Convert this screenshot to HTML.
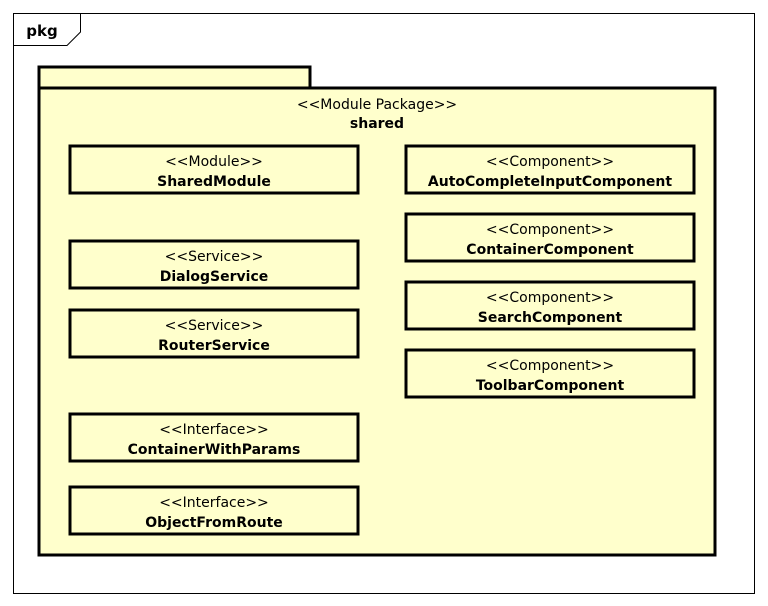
<!DOCTYPE html>
<html><head><style>body{margin:0;background:#fff}svg{display:block}text{font-family:"DejaVu Sans","Liberation Sans",sans-serif;font-size:14px;text-anchor:middle;fill:#000}.b{font-weight:bold}</style></head><body>
<svg width="768" height="606" viewBox="0 0 768 606">
<rect x="13.5" y="13.5" width="741" height="580" fill="#fff" stroke="#000"/>
<path d="M13.5 45.5 H67 L80.5 32 V13.5" fill="none" stroke="#000"/>
<text x="42" y="36" class="b" style="font-size:15px">pkg</text>
<rect x="39" y="67" width="271" height="21" fill="#ffffcc" stroke="#000" stroke-width="3"/>
<rect x="39" y="88" width="676" height="467" fill="#ffffcc" stroke="#000" stroke-width="3"/>
<text x="377" y="109">&lt;&lt;Module Package&gt;&gt;</text>
<text x="377" y="128" class="b">shared</text>
<g fill="#ffffcc" stroke="#000" stroke-width="3">
<rect x="70" y="146" width="288" height="47"/>
<rect x="70" y="241" width="288" height="47"/>
<rect x="70" y="310" width="288" height="47"/>
<rect x="70" y="414" width="288" height="47"/>
<rect x="70" y="487" width="288" height="47"/>
<rect x="406" y="146" width="288" height="47"/>
<rect x="406" y="214" width="288" height="47"/>
<rect x="406" y="282" width="288" height="47"/>
<rect x="406" y="350" width="288" height="47"/>
</g>
<text x="214" y="166">&lt;&lt;Module&gt;&gt;</text><text x="214" y="186" class="b">SharedModule</text>
<text x="214" y="261">&lt;&lt;Service&gt;&gt;</text><text x="214" y="281" class="b">DialogService</text>
<text x="214" y="330">&lt;&lt;Service&gt;&gt;</text><text x="214" y="350" class="b">RouterService</text>
<text x="214" y="434">&lt;&lt;Interface&gt;&gt;</text><text x="214" y="454" class="b">ContainerWithParams</text>
<text x="214" y="507">&lt;&lt;Interface&gt;&gt;</text><text x="214" y="527" class="b">ObjectFromRoute</text>
<text x="550" y="166">&lt;&lt;Component&gt;&gt;</text><text x="550" y="186" class="b">AutoCompleteInputComponent</text>
<text x="550" y="234">&lt;&lt;Component&gt;&gt;</text><text x="550" y="254" class="b">ContainerComponent</text>
<text x="550" y="302">&lt;&lt;Component&gt;&gt;</text><text x="550" y="322" class="b">SearchComponent</text>
<text x="550" y="370">&lt;&lt;Component&gt;&gt;</text><text x="550" y="390" class="b">ToolbarComponent</text>
</svg>
</body></html>
